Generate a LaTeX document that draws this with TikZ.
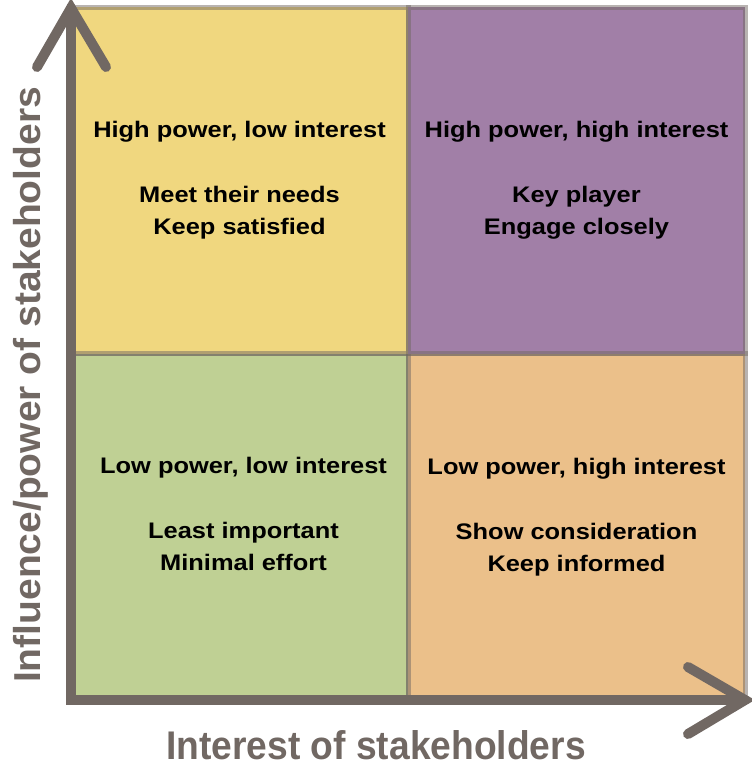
\documentclass[tikz,border=0pt]{standalone}
\usepackage{fontspec}
\setmainfont{Liberation Sans}
\newfontfamily\cellfont[FakeStretch=1.13]{Liberation Sans}
\newfontfamily\xaxisfont[FakeStretch=0.93]{Liberation Sans}
\newfontfamily\yaxisfont[FakeStretch=1.04]{Liberation Sans}
\usetikzlibrary{positioning}

\definecolor{axisgray}{RGB}{113,104,99}
\definecolor{hpli}{RGB}{240,215,127}   % high power, low interest
\definecolor{hphi}{RGB}{161,127,167}   % high power, high interest
\definecolor{lpli}{RGB}{191,208,148}   % low power, low interest
\definecolor{lphi}{RGB}{235,192,138}   % low power, high interest

\begin{document}
\begin{tikzpicture}[
        x=1pt, y=-1pt, % координаты в пикселях, ось y вниз
        cell/.style={rectangle, minimum width=337pt, minimum height=346.5pt,
                inner sep=0pt, outer sep=0pt,
                draw=axisgray, draw opacity=0.5, line width=5pt}, % квадранты
        txt/.style={align=center, font=\cellfont\fontsize{22.5}{32}\selectfont\bfseries},
        axis/.style={draw=axisgray, line width=10pt, line cap=round, line join=miter},
        axlabel/.style={text=axisgray, inner sep=0pt},
    ]
    \useasboundingbox (0,0) rectangle (752,763);

    % оси
    \coordinate (O) at (71,700);
    \coordinate (ytip) at (71,8);
    \coordinate (xtip) at (745,700);

    % матрица 2x2
    \node[cell, fill=lpli, anchor=south west] (ll) at (O) {};
    \node[cell, fill=lphi, right=0pt of ll] (lh) {};
    \node[cell, fill=hpli, above=0pt of ll] (hl) {};
    \node[cell, fill=hphi, right=0pt of hl] (hh) {};

    \node[txt] (hl-t) at (hl) {High power, low interest\\[33pt]Meet their needs\\Keep satisfied};
    \node[txt] (hh-t) at (hh) {High power, high interest\\[33pt]Key player\\Engage closely};
    \node[txt, xshift=4pt, yshift=13pt] (ll-t) at (ll) {Low power, low interest\\[33pt]Least important\\Minimal effort};
    \node[txt, yshift=10pt] (lh-t) at (lh) {Low power, high interest\\[33pt]Show consideration\\Keep informed};

    \draw[axis] (ytip) -- (O) -- (xtip);
    \draw[axis] (37,67) -- (ytip) -- (106,67);
    \draw[axis] (688,667) -- (xtip) -- (688,734);

    \node[axlabel, anchor=base, font=\xaxisfont\fontsize{40}{42}\selectfont\bfseries] (xlab) at (376,759.5) {Interest of stakeholders};
    \node[axlabel, rotate=90, font=\yaxisfont\fontsize{37.5}{40}\selectfont\bfseries] (ylab) at (31,385) {Influence/power of stakeholders};
\end{tikzpicture}
\end{document}
